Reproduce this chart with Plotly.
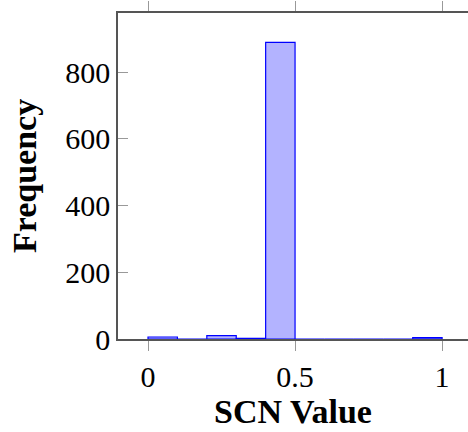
import plotly.graph_objects as go

# Histogram of SCN values (bin width 0.1)
bin_left = [0.0, 0.1, 0.2, 0.3, 0.4, 0.5, 0.6, 0.7, 0.8, 0.9]
bin_width = 0.1
counts = [6, 0, 10, 2, 889, 0, 0, 0, 0, 4]

x_ticks = [0, 0.5, 1]
x_tick_labels = ["0", "0.5", "1"]
y_ticks = [0, 200, 400, 600, 800]
y_tick_labels = ["0", "200", "400", "600", "800"]

FONT = "Liberation Serif"

fig = go.Figure(
    go.Bar(
        x=[b + bin_width / 2 for b in bin_left],
        y=counts,
        width=[bin_width] * len(bin_left),
        marker=dict(color="rgb(179,179,255)", line=dict(color="rgb(0,0,255)", width=1.2)),
    )
)

fig.update_layout(
    width=468,
    height=432,
    margin=dict(l=118, r=0, t=13, b=93),
    plot_bgcolor="white",
    paper_bgcolor="white",
    showlegend=False,
    font=dict(family=FONT, size=30, color="black"),
)

fig.update_xaxes(
    range=[-0.102, 1.088],
    tickvals=x_ticks,
    ticktext=x_tick_labels,
    ticks="outside",
    ticklen=10,
    tickcolor="#999999",
    tickwidth=1,
    showline=True,
    linecolor="#555555",
    linewidth=1.5,
    mirror="allticks",
    showgrid=False,
    zeroline=False,
    title=dict(text="<b>SCN Value</b>", standoff=0, font=dict(family=FONT, size=34)),
)

fig.update_yaxes(
    range=[0, 977],
    tickvals=y_ticks,
    ticktext=y_tick_labels,
    ticks="inside",
    ticklen=10,
    tickcolor="#999999",
    tickwidth=1,
    showline=True,
    linecolor="#555555",
    linewidth=1.5,
    showgrid=False,
    zeroline=False,
    title=dict(text="<b>Frequency</b>", standoff=18, font=dict(family=FONT, size=34)),
)

fig.write_html("out.html")
